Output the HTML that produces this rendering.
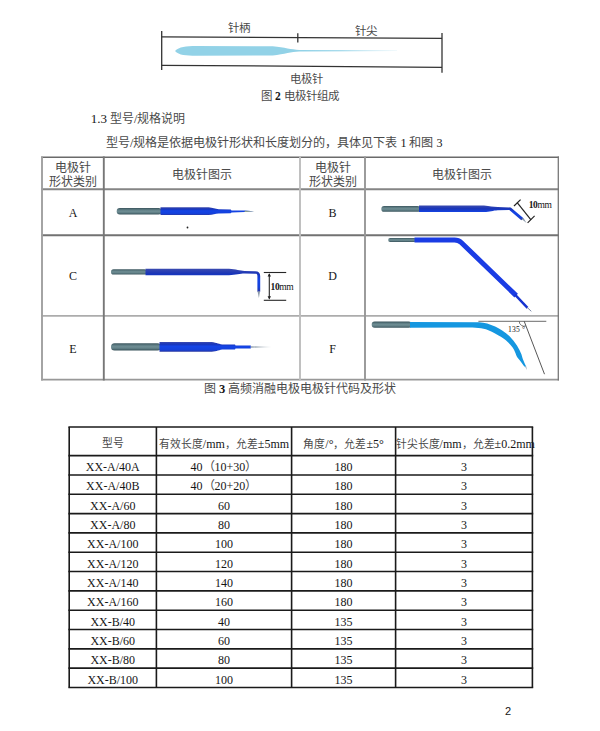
<!DOCTYPE html>
<html lang="zh-CN">
<head>
<meta charset="utf-8">
<style>
html,body{margin:0;padding:0;background:#fff;}
body{width:600px;height:731px;position:relative;overflow:hidden;font-family:"Liberation Serif",serif;color:#4a4a4a;}
svg{position:absolute;left:0;top:0;}
.t{position:absolute;white-space:nowrap;line-height:1;}
.c{position:absolute;white-space:nowrap;line-height:1;text-align:center;}
b{font-weight:bold;}
i{font-style:normal;color:#151515;}
</style>
</head>
<body>
<svg width="600" height="731" viewBox="0 0 600 731">
<defs>
<linearGradient id="gblue" x1="0" y1="0" x2="0" y2="1">
<stop offset="0" stop-color="#3a4ab0"/><stop offset="0.22" stop-color="#1834b8"/><stop offset="0.45" stop-color="#1444e6"/><stop offset="0.8" stop-color="#1440da"/><stop offset="1" stop-color="#2a38a0"/>
</linearGradient>
<linearGradient id="ggrey" x1="0" y1="0" x2="0" y2="1">
<stop offset="0" stop-color="#3a545c"/><stop offset="0.3" stop-color="#5f7e85"/><stop offset="0.5" stop-color="#6f8e94"/><stop offset="0.72" stop-color="#5f7e85"/><stop offset="1" stop-color="#38525a"/>
</linearGradient>
<linearGradient id="gfig" gradientUnits="userSpaceOnUse" x1="175" y1="0" x2="397" y2="0">
<stop offset="0" stop-color="#92d2e7"/><stop offset="0.75" stop-color="#92d2e7"/><stop offset="1" stop-color="#e4f4f9"/>
</linearGradient>
<linearGradient id="gtip" x1="0" y1="0" x2="1" y2="0">
<stop offset="0" stop-color="#8a9aa8"/><stop offset="1" stop-color="#d8dde0"/>
</linearGradient>
</defs>
<g stroke="#333" stroke-width="1.3" fill="none">
<line x1="161.7" y1="31" x2="161.7" y2="70"/>
<line x1="442" y1="33" x2="442" y2="72.7"/>
<line x1="161.7" y1="36.9" x2="442" y2="38.3"/>
<line x1="161.7" y1="65.3" x2="442" y2="67.3"/>
<line x1="297.8" y1="33.2" x2="297.8" y2="42.5"/>
</g>
<path d="M175 51 C179 47 186 46.1 196 46.1 L272.7 46.3 C285 47.5 291 49.6 299.3 49.9 L397 50.5 L397 51.1 L299.3 51.5 C291 51.8 285 54.2 272.7 55.5 L196 55.7 C186 55.7 179 55.3 175 51 Z" fill="url(#gfig)"/>
<line x1="41.1" y1="157.2" x2="559.0" y2="157.2" stroke="#6a6a6a" stroke-width="1.6"/>
<line x1="41.1" y1="189.2" x2="559.0" y2="189.2" stroke="#858585" stroke-width="1.9"/>
<line x1="41.1" y1="235.3" x2="559.0" y2="235.3" stroke="#727272" stroke-width="1.9"/>
<line x1="41.1" y1="315.9" x2="559.0" y2="315.9" stroke="#acacac" stroke-width="1.9"/>
<line x1="41.1" y1="379.6" x2="559.0" y2="379.6" stroke="#989898" stroke-width="1.9"/>
<line x1="42" y1="156.39999999999998" x2="42" y2="380.5" stroke="#a0a0a0" stroke-width="1.9"/>
<line x1="103.8" y1="156.39999999999998" x2="103.8" y2="380.5" stroke="#777777" stroke-width="1.9"/>
<line x1="300" y1="156.39999999999998" x2="300" y2="380.5" stroke="#bdbdbd" stroke-width="1.9"/>
<line x1="365" y1="156.39999999999998" x2="365" y2="380.5" stroke="#979797" stroke-width="1.9"/>
<line x1="558.3" y1="156.39999999999998" x2="558.3" y2="380.5" stroke="#787878" stroke-width="1.3"/>
<rect x="116.7" y="208" width="45" height="6.5" rx="3.2" fill="url(#ggrey)"/>
<path d="M160.5 207.3 L208.7 207.3 C213 207.8 215 209 218.7 209.2 L230.7 209.4 L231.5 210.4 L244.7 210.6 L254 211.3 L244.7 212.1 L231.5 212.4 L230.7 213.3 L218.7 213.6 C215 213.8 213 215 208.7 215.1 L160.5 215.1 Z" fill="url(#gblue)"/>
<path d="M244.7 210.7 L254.5 211.3 L244.7 212 Z" fill="#9aaa80"/>
<circle cx="187.5" cy="227.5" r="0.9" fill="#222"/>
<rect x="111" y="269.2" width="36" height="5.4" rx="2.6" fill="url(#ggrey)"/>
<path d="M145.5 268.8 L229 268.8 C236 269.4 240 270.6 244.5 270.9 L255.5 271.2 C258.5 271.2 260.2 273 260.2 276 L260.2 291.7 L257.4 291.7 L257.4 276 C257.4 274.4 256.8 273.8 255.5 273.8 L244.5 273.6 C240 273.8 236 274.7 229 275.2 L145.5 275.2 Z" fill="url(#gblue)"/>
<path d="M257.6 291.5 L260 291.5 L258.9 298 Z" fill="#8a98a8"/>
<g stroke="#262626" stroke-width="1.1" fill="none">
<line x1="263.8" y1="272.5" x2="286.2" y2="272.5"/>
<line x1="263.8" y1="300.3" x2="286.2" y2="300.3"/>
<line x1="269.3" y1="274" x2="269.3" y2="298.5"/>
</g>
<path d="M267.6 276.5 L271 276.5 L269.3 273.2 Z M267.6 296.3 L271 296.3 L269.3 299.6 Z" fill="#222"/>
<rect x="111" y="343.2" width="50" height="7.2" rx="3.5" fill="url(#ggrey)"/>
<path d="M159.5 342 L211.7 342 C217 342.8 219 344.4 224 344.5 L235 344.6 L235.5 345.5 L250.8 345.5 L250.8 348.5 L235.5 348.5 L235 349.4 L224 349.5 C219 349.6 217 351.5 211.7 351.7 L159.5 351.7 Z" fill="url(#gblue)"/>
<path d="M250.8 346.2 L271.7 347 L250.8 347.8 Z" fill="url(#gtip)"/>
<rect x="381.3" y="205.9" width="39" height="5.9" rx="2.9" fill="url(#ggrey)"/>
<path d="M419 205.5 L484 205.5 C490 206 493 206.9 497.7 207.1 L510.8 207.4 L523.5 218.3 L521.3 220.3 L509.3 209.9 L497.7 210.3 C493 210.5 490 212 484 212 L419 212 Z" fill="url(#gblue)"/>
<path d="M521.5 219 L523.5 218 L526.5 223 Z" fill="#8a98a8"/>
<g stroke="#222" stroke-width="1.2" fill="none">
<line x1="517.2" y1="202.7" x2="531" y2="219.8"/>
<line x1="514" y1="206" x2="520.6" y2="199.6"/>
<line x1="527.6" y1="222.8" x2="534.6" y2="215.8"/>
</g>
<rect x="388.2" y="238" width="28" height="3.9" rx="1.9" fill="url(#ggrey)"/>
<path d="M414.5 239.9 L454.5 239.9 Q458.5 239.9 461.2 242.5 L516.2 295.6" stroke="#1a3ce4" stroke-width="5" fill="none" stroke-linejoin="round"/>
<line x1="515" y1="294.6" x2="527.5" y2="307.8" stroke="#1532d0" stroke-width="2.4"/>
<line x1="527" y1="307.3" x2="531.3" y2="311.3" stroke="#7a88a8" stroke-width="1"/>
<line x1="478.4" y1="321.3" x2="546.3" y2="321.3" stroke="#5a5a5a" stroke-width="0.9"/>
<line x1="524.2" y1="321.3" x2="544.5" y2="374.2" stroke="#444" stroke-width="0.9"/>
<path d="M519.2 321.3 A5 5 0 0 0 526 325.9" stroke="#555" stroke-width="0.8" fill="none"/>
<rect x="371.7" y="321.6" width="40" height="6.2" rx="3" fill="url(#ggrey)"/>
<path d="M410 322 L479 322.2 C490 322.8 501 328.5 509.3 336 C515.5 342 519.5 349 521.5 354.5 C522.5 358 523 360 526.3 366.8 L524.3 366.6 C522 363 520.5 361 518 358.2 C516 356 515.5 351.5 512.8 347.7 C508 340.6 500 335.4 488.3 330.2 C482 327.9 476 327.6 465 327.6 L410 327.8 Z" fill="#1597e0"/>
<path d="M524.8 366.2 L526.3 366.8 L527 370 Z" fill="#9ab"/>
<g stroke="#1a1a1a" stroke-width="1.6" fill="none">
<line x1="68.4" y1="427.00" x2="533.1999999999999" y2="427.00"/>
<line x1="68.4" y1="455.60" x2="533.1999999999999" y2="455.60"/>
<line x1="68.4" y1="474.93" x2="533.1999999999999" y2="474.93"/>
<line x1="68.4" y1="494.25" x2="533.1999999999999" y2="494.25"/>
<line x1="68.4" y1="513.58" x2="533.1999999999999" y2="513.58"/>
<line x1="68.4" y1="532.90" x2="533.1999999999999" y2="532.90"/>
<line x1="68.4" y1="552.23" x2="533.1999999999999" y2="552.23"/>
<line x1="68.4" y1="571.55" x2="533.1999999999999" y2="571.55"/>
<line x1="68.4" y1="590.88" x2="533.1999999999999" y2="590.88"/>
<line x1="68.4" y1="610.20" x2="533.1999999999999" y2="610.20"/>
<line x1="68.4" y1="629.52" x2="533.1999999999999" y2="629.52"/>
<line x1="68.4" y1="648.85" x2="533.1999999999999" y2="648.85"/>
<line x1="68.4" y1="668.17" x2="533.1999999999999" y2="668.17"/>
<line x1="68.4" y1="687.50" x2="533.1999999999999" y2="687.50"/>
<line x1="69.2" y1="427.0" x2="69.2" y2="687.5"/>
<line x1="156.4" y1="427.0" x2="156.4" y2="687.5"/>
<line x1="291.6" y1="427.0" x2="291.6" y2="687.5"/>
<line x1="395.6" y1="427.0" x2="395.6" y2="687.5"/>
<line x1="532.4" y1="427.0" x2="532.4" y2="687.5"/>
</g>
</svg>
<div class="t" style="left:227.5px;top:23px;font-size:11.5px;">针柄</div>
<div class="t" style="left:354.5px;top:26px;font-size:11.5px;">针尖</div>
<div class="t" style="left:289.5px;top:73.5px;font-size:11.3px;">电极针</div>
<div class="t" style="left:261px;top:91px;font-size:11.5px;">图 <b><i>2</i></b> 电极针组成</div>
<div class="t" style="left:90.7px;top:112.3px;font-size:12px;"><span style="font-size:13px;position:relative;top:-0.8px"><i>1.3</i></span> 型号<i>/</i>规格说明</div>
<div class="t" style="left:106px;top:136.5px;font-size:12.1px;">型号<i>/</i>规格是依据电极针形状和长度划分的，具体见下表 <i>1</i> 和图 <i>3</i></div>
<div class="c" style="left:42px;width:62px;top:160.5px;font-size:12px;line-height:14.5px;">电极针<br>形状类别</div>
<div class="c" style="left:104px;width:196px;top:169px;font-size:12px;">电极针图示</div>
<div class="c" style="left:300px;width:65px;top:160.5px;font-size:12px;line-height:14.5px;">电极针<br>形状类别</div>
<div class="c" style="left:365px;width:193px;top:169px;font-size:12px;">电极针图示</div>
<div class="c" style="left:42px;width:62px;top:207px;font-size:12px;"><i>A</i></div>
<div class="c" style="left:300px;width:65px;top:207px;font-size:12px;"><i>B</i></div>
<div class="c" style="left:42px;width:62px;top:270px;font-size:12px;"><i>C</i></div>
<div class="c" style="left:300px;width:65px;top:270px;font-size:12px;"><i>D</i></div>
<div class="c" style="left:42px;width:62px;top:343px;font-size:12px;"><i>E</i></div>
<div class="c" style="left:300px;width:65px;top:343px;font-size:12px;"><i>F</i></div>
<div class="t" style="left:270.6px;top:282.5px;font-size:9.5px;letter-spacing:-0.4px;color:#111;"><b><i>10</i></b><i>mm</i></div>
<div class="t" style="left:528.7px;top:201.2px;font-size:9.5px;letter-spacing:-0.4px;color:#111;"><b><i>10</i></b><i>mm</i></div>
<div class="t" style="left:508px;top:326px;font-size:7.6px;letter-spacing:0.2px;color:#333;"><i>135</i> <i>°</i></div>
<div class="t" style="left:204px;top:382.5px;font-size:12px;">图 <b style="font-size:12.5px"><i>3</i></b> 高频消融电极电极针代码及形状</div>
<div class="c" style="left:69.2px;width:87.2px;top:437.7px;font-size:10.8px;letter-spacing:0;">型号</div>
<div class="c" style="left:156.4px;width:135.2px;top:437.7px;font-size:10.8px;letter-spacing:0;">有效长度<span style="font-size:12px"><i>/mm</i></span>，允差<span style="font-size:12px"><i>±5mm</i></span></div>
<div class="c" style="left:291.6px;width:104.0px;top:437.7px;font-size:10.8px;letter-spacing:0;">角度<span style="font-size:12px"><i>/°</i></span>，允差<span style="font-size:12px"><i>±5°</i></span></div>
<div class="c" style="left:395.6px;width:136.8px;top:437.7px;font-size:10.8px;letter-spacing:0;">针尖长度<span style="font-size:12px"><i>/mm</i></span>，允差<span style="font-size:12px"><i>±0.2mm</i></span></div>
<div class="c" style="left:69.2px;width:87.2px;top:461.0px;font-size:12px;"><i>XX-A/40A</i></div>
<div class="c" style="left:156.4px;width:135.2px;top:461.0px;font-size:12px;"><i>40</i>（<i>10+30</i>）</div>
<div class="c" style="left:291.6px;width:104.0px;top:461.0px;font-size:12px;"><i>180</i></div>
<div class="c" style="left:395.6px;width:136.8px;top:461.0px;font-size:12px;"><i>3</i></div>
<div class="c" style="left:69.2px;width:87.2px;top:480.3px;font-size:12px;"><i>XX-A/40B</i></div>
<div class="c" style="left:156.4px;width:135.2px;top:480.3px;font-size:12px;"><i>40</i>（<i>20+20</i>）</div>
<div class="c" style="left:291.6px;width:104.0px;top:480.3px;font-size:12px;"><i>180</i></div>
<div class="c" style="left:395.6px;width:136.8px;top:480.3px;font-size:12px;"><i>3</i></div>
<div class="c" style="left:69.2px;width:87.2px;top:499.6px;font-size:12px;"><i>XX-A/60</i></div>
<div class="c" style="left:156.4px;width:135.2px;top:499.6px;font-size:12px;"><i>60</i></div>
<div class="c" style="left:291.6px;width:104.0px;top:499.6px;font-size:12px;"><i>180</i></div>
<div class="c" style="left:395.6px;width:136.8px;top:499.6px;font-size:12px;"><i>3</i></div>
<div class="c" style="left:69.2px;width:87.2px;top:518.9px;font-size:12px;"><i>XX-A/80</i></div>
<div class="c" style="left:156.4px;width:135.2px;top:518.9px;font-size:12px;"><i>80</i></div>
<div class="c" style="left:291.6px;width:104.0px;top:518.9px;font-size:12px;"><i>180</i></div>
<div class="c" style="left:395.6px;width:136.8px;top:518.9px;font-size:12px;"><i>3</i></div>
<div class="c" style="left:69.2px;width:87.2px;top:538.3px;font-size:12px;"><i>XX-A/100</i></div>
<div class="c" style="left:156.4px;width:135.2px;top:538.3px;font-size:12px;"><i>100</i></div>
<div class="c" style="left:291.6px;width:104.0px;top:538.3px;font-size:12px;"><i>180</i></div>
<div class="c" style="left:395.6px;width:136.8px;top:538.3px;font-size:12px;"><i>3</i></div>
<div class="c" style="left:69.2px;width:87.2px;top:557.6px;font-size:12px;"><i>XX-A/120</i></div>
<div class="c" style="left:156.4px;width:135.2px;top:557.6px;font-size:12px;"><i>120</i></div>
<div class="c" style="left:291.6px;width:104.0px;top:557.6px;font-size:12px;"><i>180</i></div>
<div class="c" style="left:395.6px;width:136.8px;top:557.6px;font-size:12px;"><i>3</i></div>
<div class="c" style="left:69.2px;width:87.2px;top:576.9px;font-size:12px;"><i>XX-A/140</i></div>
<div class="c" style="left:156.4px;width:135.2px;top:576.9px;font-size:12px;"><i>140</i></div>
<div class="c" style="left:291.6px;width:104.0px;top:576.9px;font-size:12px;"><i>180</i></div>
<div class="c" style="left:395.6px;width:136.8px;top:576.9px;font-size:12px;"><i>3</i></div>
<div class="c" style="left:69.2px;width:87.2px;top:596.2px;font-size:12px;"><i>XX-A/160</i></div>
<div class="c" style="left:156.4px;width:135.2px;top:596.2px;font-size:12px;"><i>160</i></div>
<div class="c" style="left:291.6px;width:104.0px;top:596.2px;font-size:12px;"><i>180</i></div>
<div class="c" style="left:395.6px;width:136.8px;top:596.2px;font-size:12px;"><i>3</i></div>
<div class="c" style="left:69.2px;width:87.2px;top:615.6px;font-size:12px;"><i>XX-B/40</i></div>
<div class="c" style="left:156.4px;width:135.2px;top:615.6px;font-size:12px;"><i>40</i></div>
<div class="c" style="left:291.6px;width:104.0px;top:615.6px;font-size:12px;"><i>135</i></div>
<div class="c" style="left:395.6px;width:136.8px;top:615.6px;font-size:12px;"><i>3</i></div>
<div class="c" style="left:69.2px;width:87.2px;top:634.9px;font-size:12px;"><i>XX-B/60</i></div>
<div class="c" style="left:156.4px;width:135.2px;top:634.9px;font-size:12px;"><i>60</i></div>
<div class="c" style="left:291.6px;width:104.0px;top:634.9px;font-size:12px;"><i>135</i></div>
<div class="c" style="left:395.6px;width:136.8px;top:634.9px;font-size:12px;"><i>3</i></div>
<div class="c" style="left:69.2px;width:87.2px;top:654.2px;font-size:12px;"><i>XX-B/80</i></div>
<div class="c" style="left:156.4px;width:135.2px;top:654.2px;font-size:12px;"><i>80</i></div>
<div class="c" style="left:291.6px;width:104.0px;top:654.2px;font-size:12px;"><i>135</i></div>
<div class="c" style="left:395.6px;width:136.8px;top:654.2px;font-size:12px;"><i>3</i></div>
<div class="c" style="left:69.2px;width:87.2px;top:673.5px;font-size:12px;"><i>XX-B/100</i></div>
<div class="c" style="left:156.4px;width:135.2px;top:673.5px;font-size:12px;"><i>100</i></div>
<div class="c" style="left:291.6px;width:104.0px;top:673.5px;font-size:12px;"><i>135</i></div>
<div class="c" style="left:395.6px;width:136.8px;top:673.5px;font-size:12px;"><i>3</i></div>
<div class="t" style="left:505px;top:706px;font-size:11px;font-family:'Liberation Sans',sans-serif;"><i>2</i></div>
</body>
</html>
